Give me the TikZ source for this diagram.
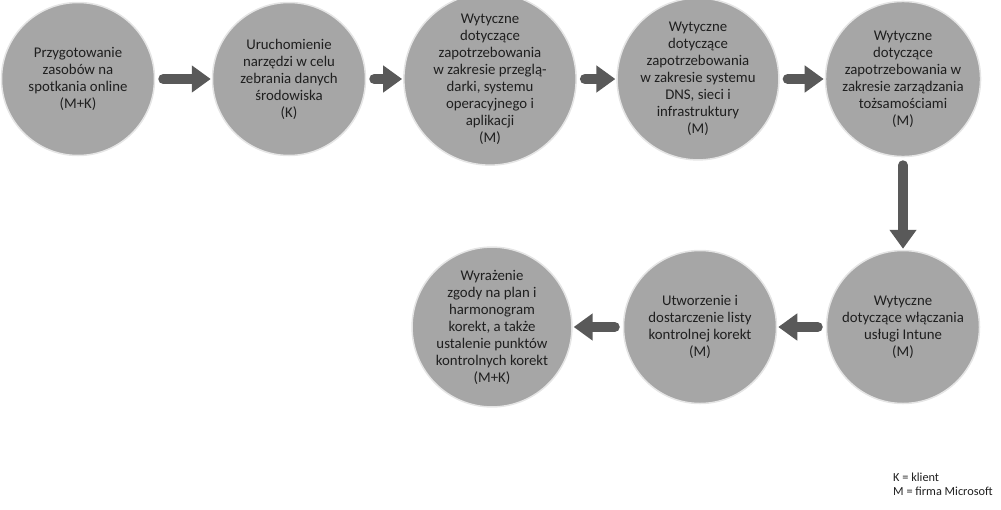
\documentclass[tikz,border=0pt]{standalone}
\usepackage{fontspec}
\setmainfont{Carlito}
\usetikzlibrary{arrows.meta}
\definecolor{circfill}{HTML}{A6A6A6}
\definecolor{arrcol}{HTML}{595959}
\definecolor{txtcol}{HTML}{1F1F1F}
\begin{document}
\begin{tikzpicture}[x=1pt,y=-1pt,
  stepcirc/.style={circle, fill=circfill, draw=black!10, line width=1.5pt, minimum size=153pt, inner sep=0pt,
    align=center, text=txtcol, font=\fontsize{14.8}{17}\selectfont},
  flowarrow/.style={draw=arrcol, line width=10pt, line cap=round,
    -{Triangle[width=26pt,length=19pt]}, shorten <=8pt, shorten >=1pt},
  legend/.style={anchor=north west, align=left, inner sep=0pt, text=txtcol, font=\fontsize{12.3}{14}\selectfont}]
\useasboundingbox (0,0) rectangle (1001,509);
\node[stepcirc] (c1) at (78,79) {Przygotowanie\\zasobów na\\spotkania online\\(M+K)};
\node[stepcirc] (c2) at (289,79) {Uruchomienie\\narzędzi w celu\\zebrania danych\\środowiska\\(K)};
\node[stepcirc] (c3) at (490,79) {Wytyczne\\dotyczące\\zapotrzebowania\\w zakresie przeglą-\\darki, systemu\\operacyjnego i\\aplikacji\\(M)};
\node[stepcirc] (c4) at (698,79) {Wytyczne\\dotyczące\\zapotrzebowania\\w zakresie systemu\\DNS, sieci i\\infrastruktury\\(M)};
\node[stepcirc] (c5) at (903,79) {Wytyczne\\dotyczące\\zapotrzebowania w\\zakresie zarządzania\\tożsamościami\\(M)};
\node[stepcirc] (c6) at (903,327) {Wytyczne\\dotyczące włączania\\usługi Intune\\(M)};
\node[stepcirc] (c7) at (700,327) {Utworzenie i\\dostarczenie listy\\kontrolnej korekt\\(M)};
\node[stepcirc] (c8) at (492,327) {Wyrażenie\\zgody na plan i\\harmonogram\\korekt, a także\\ustalenie punktów\\kontrolnych korekt\\(M+K)};
\draw[flowarrow] (c1) -- (c2);
\draw[flowarrow] (c2) -- (c3);
\draw[flowarrow] (c3) -- (c4);
\draw[flowarrow] (c4) -- (c5);
\draw[flowarrow] (c5) -- (c6);
\draw[flowarrow] (c6) -- (c7);
\draw[flowarrow] (c7) -- (c8);
\node[legend] (leg) at (893,473) {K = klient\\M = firma Microsoft};
\end{tikzpicture}
\end{document}
